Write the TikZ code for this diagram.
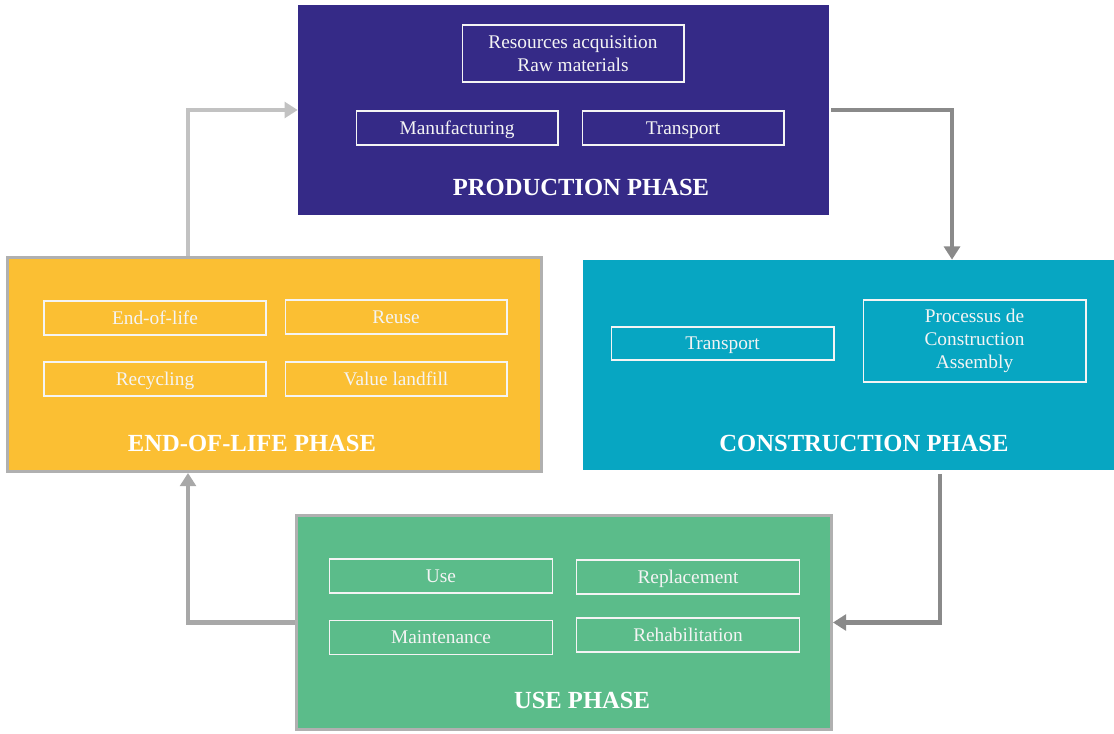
\documentclass[tikz,border=0pt]{standalone}
\usepackage{fontspec}
\setmainfont{Liberation Serif}
\usetikzlibrary{arrows.meta}
\definecolor{prodblue}{HTML}{352A87}
\definecolor{constcyan}{HTML}{07A6C2}
\definecolor{eolyellow}{HTML}{FBBF33}
\definecolor{usegreen}{HTML}{5BBC8A}
\definecolor{framegray}{HTML}{B0B0B0}
\definecolor{arrowdark}{HTML}{8A8A8A}
\definecolor{arrowmid}{HTML}{A8A8A8}
\definecolor{arrowlight}{HTML}{C2C2C2}
\definecolor{offwhite}{HTML}{F4F4F4}
\tikzset{
  phase/.style={rectangle, inner sep=0pt},
  itembox/.style={rectangle, draw=offwhite, line width=0.6pt, text=offwhite,
    font=\fontsize{11}{13.3}\selectfont, align=center, inner sep=0pt,
    minimum width=4.44cm, minimum height=0.68cm},
  item/.style={itembox, text height=1.6ex, text depth=0.1ex},
  title/.style={text=white, font=\fontsize{14}{16}\selectfont\bfseries, inner sep=0pt},
  flow/.style={line width=2.3pt, -{Triangle[length=7.5pt,width=9pt]}}
}
\begin{document}
\begin{tikzpicture}[x=0.02cm, y=-0.02cm]
    \useasboundingbox (0,0) rectangle (1114,733);

    % the four phases
    \node[phase, fill=prodblue, minimum width=10.62cm, minimum height=4.2cm] (prod) at (563.5,110) {};
    \node[phase, fill=constcyan, minimum width=10.62cm, minimum height=4.2cm] (cons) at (848.5,365) {};
    \node[phase, fill=eolyellow, draw=framegray, line width=1.7pt, minimum width=10.68cm, minimum height=4.28cm] (eol) at (274.5,364.5) {};
    \node[phase, fill=usegreen, draw=framegray, line width=1.7pt, minimum width=10.7cm, minimum height=4.28cm] (use) at (564,622.5) {};

    \node[itembox, minimum height=1.14cm] (res) at (573,53.5) {Resources acquisition\\Raw materials};
    \node[item, minimum width=4.04cm] (manu) at (457,128) {Manufacturing};
    \node[item, minimum width=4.04cm] (trans1) at (683,128) {Transport};
    \node[title] (prodT) at (581,187) {PRODUCTION PHASE};

    \node[item, minimum width=4.46cm, minimum height=0.66cm] (trans2) at (722.5,343.5) {Transport};
    \node[itembox, minimum width=4.46cm, minimum height=1.64cm] (proc) at (974.5,341) {Processus de\\Construction\\Assembly};
    \node[title] (consT) at (864,443) {CONSTRUCTION PHASE};

    \foreach \name/\x/\y/\txt in {endlife/155/318/End-of-life, reuse/396/317/Reuse,
                                  recyc/155/379/Recycling, landfill/396/379/Value landfill}
    {
      \node[item] (\name) at (\x,\y) {\txt};
    };
    \node[title] (eolT) at (252,443) {END-OF-LIFE PHASE};

    \foreach \name/\x/\y/\txt in {usage/441/576/Use, repl/688/577/Replacement,
                                  maint/441/637.5/Maintenance, rehab/688/635/Rehabilitation}
    {
      \node[item, minimum width=4.46cm] (\name) at (\x,\y) {\txt};
    };
    \node[title] (useT) at (582,700) {USE PHASE};

    % bends of the cycle
    \coordinate (k1) at (952,110);
    \coordinate (k2) at (940,622.5);
    \coordinate (k3) at (188,622.5);
    \coordinate (k4) at (188,110);

    \draw[flow, arrowdark, shorten <=1pt] (prod.east) -- (k1) -- (k1 |- cons.north);
    \draw[flow, arrowdark, shorten <=2pt] (k2 |- cons.south) -- (k2) -- (use.east);
    \draw[flow, arrowmid] (use.west) -- (k3) -- (k3 |- eol.south);
    \draw[flow, arrowlight] (k4 |- eol.north) -- (k4) -- (prod.west);
\end{tikzpicture}
\end{document}
